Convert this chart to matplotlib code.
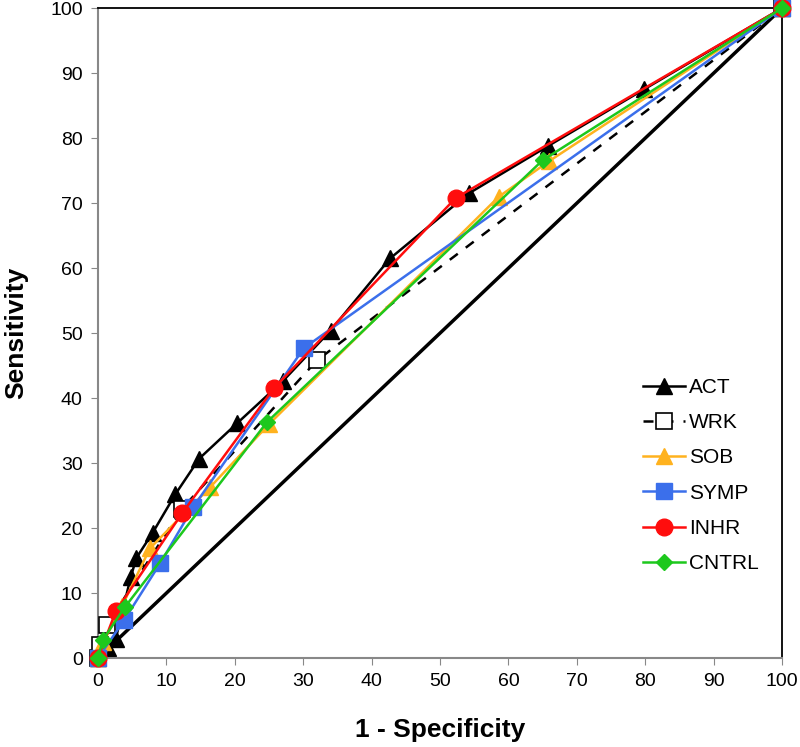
import matplotlib
matplotlib.use("Agg")
import matplotlib.pyplot as plt

plt.rcParams['font.family'] = ['Liberation Sans', 'DejaVu Sans']

# 1 - Specificity (x) and Sensitivity (y) for each model
act_x = [0, 1.5, 2.6, 4.8, 5.6, 8.0, 11.3, 14.8, 20.3, 27.0, 34.0, 42.7, 54.2, 65.8, 79.8, 100]
act_y = [0, 1.5, 3.0, 12.5, 15.4, 19.3, 25.2, 30.7, 36.1, 42.6, 50.4, 61.5, 71.5, 78.8, 87.5, 100]

wrk_x = [0, 0.3, 1.3, 12.3, 32.0, 100]
wrk_y = [0, 2.0, 5.1, 23.0, 45.8, 100]

sob_x = [0, 0.8, 3.5, 7.6, 16.4, 25.0, 58.6, 66.0, 100]
sob_y = [0, 2.5, 8.0, 16.9, 26.3, 36.0, 71.0, 76.5, 100]

symp_x = [0, 3.8, 9.1, 13.9, 30.1, 100]
symp_y = [0, 5.8, 14.6, 23.2, 47.7, 100]

inhr_x = [0, 2.6, 12.3, 25.7, 52.3, 100]
inhr_y = [0, 7.2, 22.3, 41.5, 70.8, 100]

cntrl_x = [0, 0.7, 3.9, 24.7, 65.0, 100]
cntrl_y = [0, 2.8, 7.8, 36.3, 76.6, 100]

ref_line = [0, 100]


def main():
    fig = plt.figure(figsize=(8, 7.47), dpi=100)
    ax = fig.add_axes([0.1225, 0.119, 0.855, 0.870])

    # reference diagonal
    ax.plot(ref_line, ref_line, color="black", lw=2.5, zorder=1)

    ax.plot(act_x, act_y, color="black", lw=1.8, marker="^", ms=11,
            label="ACT", clip_on=False, zorder=2)
    ax.plot(wrk_x, wrk_y, color="black", lw=1.8, ls=(0, (4, 4)), marker="s", ms=11,
            mfc="white", mec="black", mew=1.2, label="WRK", clip_on=False, zorder=3)
    ax.plot(sob_x, sob_y, color="#FFB21E", lw=1.8, marker="^", ms=11,
            label="SOB", clip_on=False, zorder=4)
    ax.plot(symp_x, symp_y, color="#3B6FEB", lw=1.8, marker="s", ms=11,
            label="SYMP", clip_on=False, zorder=5)
    ax.plot(inhr_x, inhr_y, color="#FF0D0D", lw=1.8, marker="o", ms=12,
            label="INHR", clip_on=False, zorder=6)
    ax.plot(cntrl_x, cntrl_y, color="#1DC81D", lw=1.8, marker="D", ms=8,
            label="CNTRL", clip_on=False, zorder=7)

    ax.set_xlim(0, 100)
    ax.set_ylim(0, 100)
    ax.set_xticks(range(0, 101, 10))
    ax.set_yticks(range(0, 101, 10))
    ax.tick_params(axis="both", direction="out", length=5, color="#888888",
                   labelsize=14, pad=6)

    ax.spines["left"].set_color("#888888")
    ax.spines["bottom"].set_color("#888888")
    ax.spines["left"].set_linewidth(1.5)
    ax.spines["bottom"].set_linewidth(1.5)
    ax.spines["top"].set_color("black")
    ax.spines["right"].set_color("black")
    ax.spines["top"].set_linewidth(1.3)
    ax.spines["right"].set_linewidth(1.3)

    ax.set_xlabel("1 - Specificity", fontsize=19, fontweight="bold", labelpad=20)
    ax.set_ylabel("Sensitivity", fontsize=19, fontweight="bold", labelpad=16)

    ax.legend(loc="upper left", bbox_to_anchor=(0.77, 0.46), frameon=False,
              fontsize=15, handlelength=2.0, handletextpad=0.2, labelspacing=0.78)

    fig.savefig("out.png", dpi=100)
    plt.close(fig)


if __name__ == "__main__":
    main()
